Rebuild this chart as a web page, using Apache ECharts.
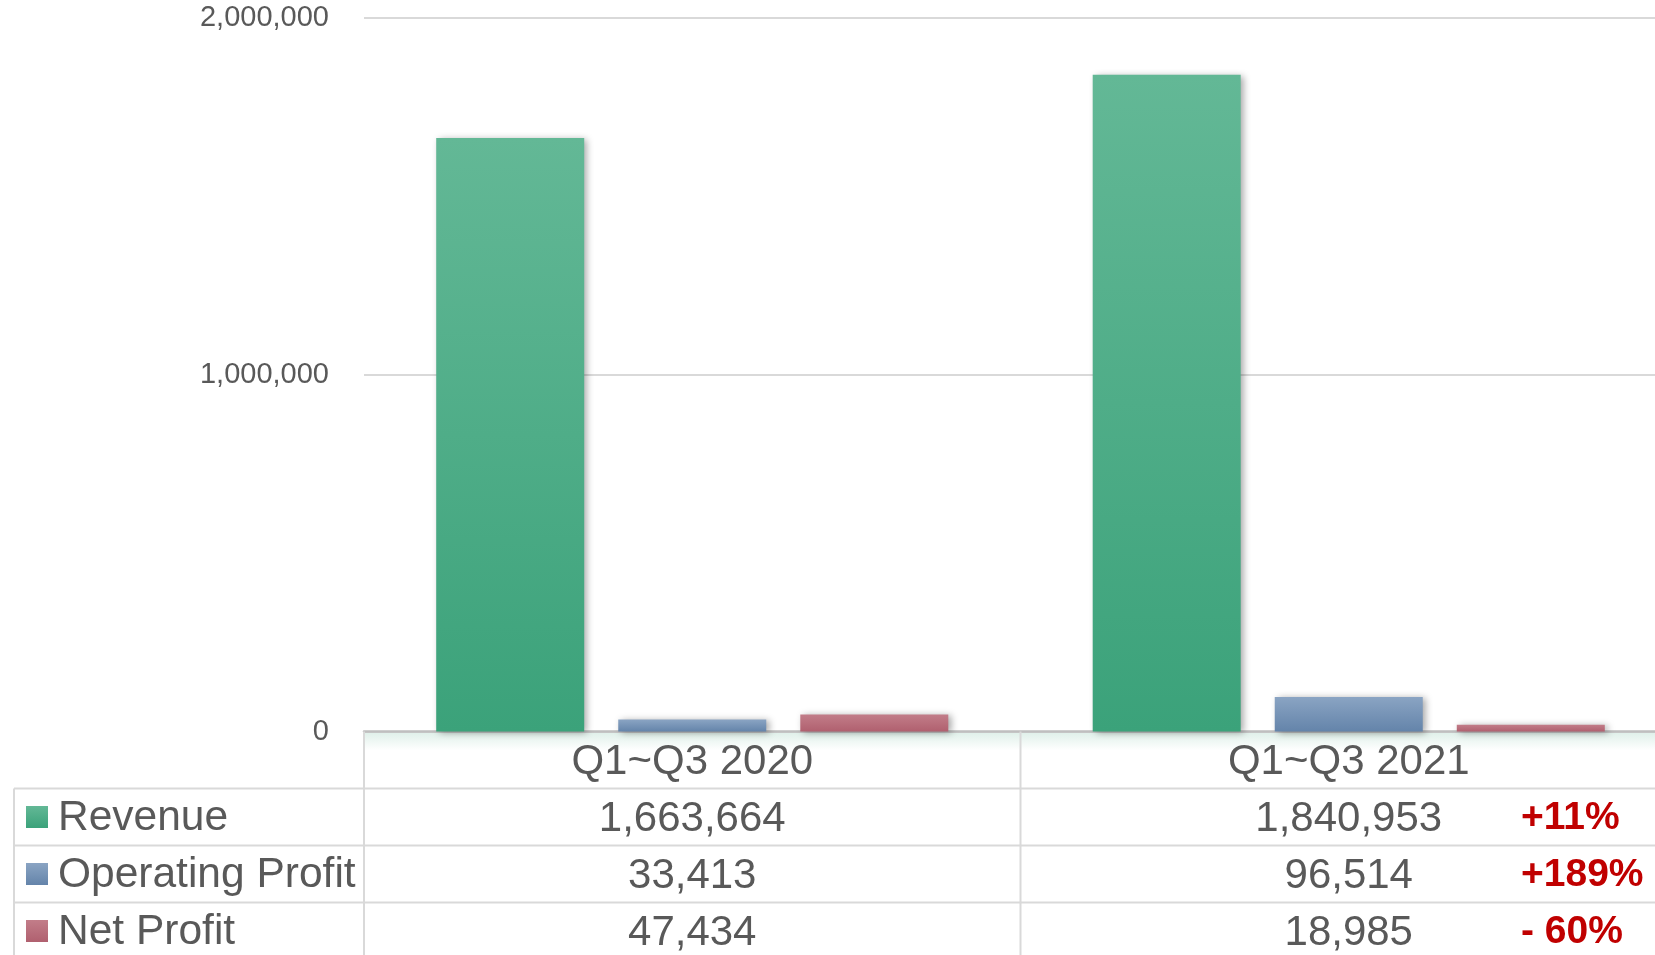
<!DOCTYPE html>
<html>
<head>
<meta charset="utf-8">
<script src="https://cdn.jsdelivr.net/npm/echarts@6/dist/echarts.min.js"></script>
<style>
html,body{margin:0;padding:0;background:#fff;}
#main{width:1655px;height:955px;}
</style>
</head>
<body>
<div id="main"></div>
<script>
// ---- data ----
const categories = ['Q1~Q3 2020', 'Q1~Q3 2021'];
const seriesNames = ['Revenue', 'Operating Profit', 'Net Profit'];
const revenue = [1663664, 1840953];
const operatingProfit = [33413, 96514];
const netProfit = [47434, 18985];
const changeLabels = ['+11%', '+189%', '- 60%'];
const yTicks = [0, 1000000, 2000000];

// ---- layout / style ----
const FONT = "'Liberation Sans', Arial, sans-serif";
const TXT = '#595959';
const LINE = '#D9D9D9';
const gridLeft = 364, gridTop = 18, gridBottomY = 731.5, gridWidth = 1313;
const rowH = 57;
const colors = [
  ['#63B896', '#3BA27A'],
  ['#8AA4C3', '#6484AA'],
  ['#C27D89', '#B0606F']
];
const seriesData = [revenue, operatingProfit, netProfit];

function grad(c) {
  return new echarts.graphic.LinearGradient(0, 0, 0, 1, [
    { offset: 0, color: c[0] }, { offset: 1, color: c[1] }
  ]);
}
function fmt(v) { return v.toLocaleString('en-US'); }

const chart = echarts.init(document.getElementById('main'));

const series = seriesNames.map((name, i) => ({
  name: name,
  type: 'bar',
  data: seriesData[i],
  barWidth: 148,
  barGap: '23%',
  itemStyle: {
    color: grad(colors[i]),
    shadowBlur: 7,
    shadowColor: 'rgba(0,0,0,0.35)',
    shadowOffsetX: 3,
    shadowOffsetY: 1
  }
}));

// table graphics
const graphics = [];
const tableTop = gridBottomY;
const rowTops = [tableTop + rowH, tableTop + 2 * rowH, tableTop + 3 * rowH];
const midX = gridLeft + gridWidth / 2;
graphics.push({
  type: 'rect', z: 0,
  shape: { x: gridLeft, y: tableTop + 1, width: gridWidth, height: 18 },
  style: { fill: new echarts.graphic.LinearGradient(0, 0, 0, 1, [
    { offset: 0, color: 'rgba(60,163,122,0.16)' }, { offset: 1, color: 'rgba(60,163,122,0)' }
  ]) }
});
rowTops.forEach(y => {
  graphics.push({ type: 'line', z: 1, shape: { x1: 14, y1: y, x2: 1655, y2: y }, style: { stroke: LINE, lineWidth: 2 } });
});
graphics.push({ type: 'line', z: 1, shape: { x1: 14, y1: rowTops[0], x2: 14, y2: 955 }, style: { stroke: LINE, lineWidth: 2 } });
graphics.push({ type: 'line', z: 1, shape: { x1: gridLeft, y1: tableTop, x2: gridLeft, y2: 955 }, style: { stroke: LINE, lineWidth: 2 } });
graphics.push({ type: 'line', z: 1, shape: { x1: midX, y1: tableTop, x2: midX, y2: 955 }, style: { stroke: LINE, lineWidth: 2 } });

seriesNames.forEach((name, i) => {
  const cy = rowTops[i] + rowH / 2;
  graphics.push({ type: 'rect', z: 2, shape: { x: 26, y: cy - 11, width: 22, height: 22 }, style: { fill: grad(colors[i]) } });
  graphics.push({ type: 'text', z: 2, x: 58, y: cy + 1, style: { text: name, font: '42.5px ' + FONT, fill: TXT, verticalAlign: 'middle', align: 'left' } });
  graphics.push({ type: 'text', z: 2, x: 1521, y: cy + 1, style: { text: changeLabels[i], font: 'bold 39px ' + FONT, fill: '#C00000', verticalAlign: 'middle', align: 'left' } });
});

chart.setOption({
  animation: false,
  backgroundColor: '#fff',
  grid: { left: gridLeft, top: gridTop, width: gridWidth, height: gridBottomY - gridTop, containLabel: false, outerBoundsMode: 'none' },
  xAxis: {
    type: 'category',
    data: categories,
    axisTick: { show: false },
    axisLine: { lineStyle: { color: '#BFBFBF', width: 2.5 } },
    axisLabel: {
      margin: 2,
      interval: 0,
      formatter: function (value, idx) {
        const lines = ['{c|' + value + '}'];
        seriesData.forEach(arr => lines.push('{c|' + fmt(arr[idx]) + '}'));
        return lines.join('\n');
      },
      rich: {
        c: { fontSize: 42, fontFamily: FONT, color: TXT, lineHeight: rowH, height: rowH, verticalAlign: 'middle' }
      }
    }
  },
  yAxis: {
    type: 'value',
    min: yTicks[0],
    max: yTicks[yTicks.length - 1],
    interval: yTicks[1] - yTicks[0],
    axisLine: { show: false },
    axisTick: { show: false },
    axisLabel: { fontSize: 29, fontFamily: FONT, color: TXT, margin: 35, padding: [4, 0, 0, 0], formatter: v => fmt(v) },
    splitLine: { lineStyle: { color: LINE, width: 2 } }
  },
  series: series,
  graphic: graphics
});
</script>
</body>
</html>
